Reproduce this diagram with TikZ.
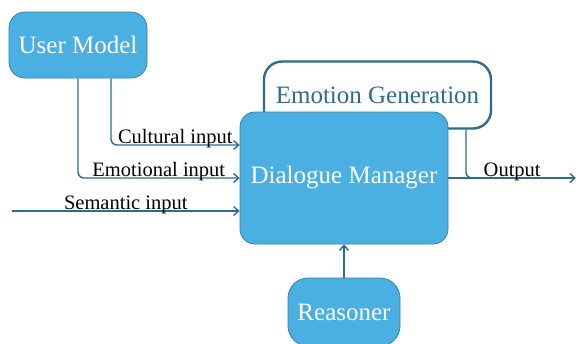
\documentclass[tikz,border=0pt]{standalone}
\usepackage{fontspec}
\setmainfont{Liberation Serif}
\usetikzlibrary{arrows.meta}
\definecolor{boxfill}{RGB}{74,176,226}
\definecolor{boxedge}{RGB}{58,128,168}
\definecolor{linecol}{RGB}{46,108,140}
\tikzset{
  bluebox/.style={draw=boxedge, line width=0.8pt, fill=boxfill, text=white,
    rounded corners=16pt, inner sep=0pt,
    font=\fontsize{25}{30}\selectfont},
  genbox/.style={draw=linecol, line width=2.4pt, fill=white, text=linecol,
    rounded corners=18pt, inner sep=0pt,
    font=\fontsize{25}{30}\selectfont},
  flow/.style={draw=linecol, line width=1.4pt, rounded corners=6pt,
    -{Straight Barb[length=5pt,width=9pt]}},
  branch/.style={draw=linecol, line width=1.4pt, rounded corners=6pt},
  lbl/.style={anchor=base, inner sep=0pt, yshift=2pt,
    font=\fontsize{20.5}{24}\selectfont}
}
\begin{document}
\begin{tikzpicture}[x=1pt, y=-1pt]
  \useasboundingbox (0,0) rectangle (576,343);
  \clip (0,0) rectangle (576,343);

  % components
  \node[genbox, minimum width=227pt, minimum height=67pt] (EG) at (377.5,95) {Emotion Generation};
  \node[bluebox, minimum width=138pt, minimum height=66pt] (UM) at (78,45) {User Model};
  \node[bluebox, minimum width=208pt, minimum height=132pt, rounded corners=15pt] (DM) at (344,178) {Dialogue Manager};
  \node[bluebox, minimum width=112pt, minimum height=68pt, rounded corners=20pt] (RS) at (344,312) {Reasoner};

  % free ends
  \coordinate (semStart) at (12,211);
  \coordinate (outEnd) at (576,178);

  % inputs to the dialogue manager
  \draw[flow] ([xshift=33pt]UM.south) |- ([yshift=33pt]DM.west)
    node[lbl, pos=0.75] {Cultural input};
  \draw[flow] (UM.south) |- (DM.west)
    node[lbl, pos=0.75] {Emotional input};
  \draw[flow] (semStart) -- (semStart -| DM.west)
    node[lbl, midway] {Semantic input};
  \draw[flow] (RS.north) -- (DM.south);

  % output and emotion branch
  \draw[branch] ([xshift=88.5pt]EG.south) |- ([xshift=60pt]DM.east);
  \draw[flow] (DM.east) -- (outEnd) node[lbl, midway] {Output};
\end{tikzpicture}
\end{document}
